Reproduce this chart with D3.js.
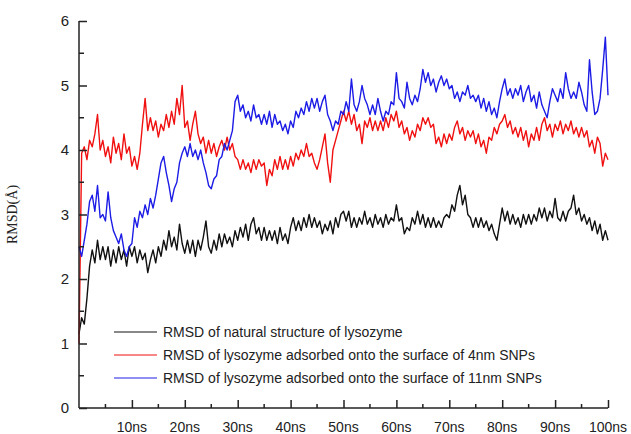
<!DOCTYPE html>
<html>
<head>
<meta charset="utf-8">
<script src="https://cdn.jsdelivr.net/npm/d3@7"></script>
<style>
  body { margin: 0; background: #fff; }
  svg text { font-family: Arial, "Liberation Sans", sans-serif; fill: #222; }
</style>
</head>
<body>
<div id="chart"></div>
<script>
// sampling step of the trajectories, in ns
const stepNs = 0.5;

// RMSD of natural structure of lysozyme
const natural = [
  1.15, 1.4, 1.3, 1.7, 2.2, 2.45, 2.25, 2.6, 2.3, 2.5,
  2.3, 2.5, 2.2, 2.45, 2.25, 2.5, 2.3, 2.45, 2.2, 2.5,
  2.35, 2.5, 2.25, 2.45, 2.3, 2.4, 2.1, 2.3, 2.45, 2.25,
  2.5, 2.35, 2.6, 2.45, 2.75, 2.5, 2.65, 2.45, 2.85, 2.55,
  2.4, 2.6, 2.4, 2.6, 2.35, 2.6, 2.45, 2.65, 2.9, 2.5,
  2.4, 2.6, 2.45, 2.7, 2.5, 2.7, 2.55, 2.65, 2.5, 2.75,
  2.6, 2.8, 2.65, 2.85, 2.6, 2.85, 2.95, 2.7, 2.8, 2.6,
  2.8, 2.6, 2.75, 2.6, 2.75, 2.55, 2.8, 2.6, 2.7, 2.55,
  2.8, 2.95, 2.75, 2.9, 2.75, 2.95, 2.8, 3.0, 2.8, 2.95,
  2.8, 2.9, 2.7, 2.85, 2.75, 2.9, 2.7, 2.95, 2.8, 3.0,
  3.05, 2.9, 3.05, 2.8, 2.95, 2.8, 2.95, 2.85, 3.05, 2.85,
  2.95, 2.8, 3.0, 2.85, 2.95, 2.8, 3.0, 2.85, 2.95, 2.9,
  3.15, 2.9, 2.95, 2.7, 2.8, 2.75, 2.95, 2.85, 3.05, 2.85,
  3.0, 2.8, 2.95, 2.8, 2.95, 2.8, 2.9, 2.8, 2.95, 3.0,
  2.95, 3.15, 3.05, 3.3, 3.45, 3.15, 3.3, 3.0, 2.95, 2.8,
  2.95, 2.8, 2.95, 2.8, 2.9, 2.75, 2.85, 2.7, 2.6, 2.85,
  3.1, 2.9, 3.05, 2.85, 3.0, 2.85, 2.95, 2.8, 3.0, 2.85,
  3.0, 2.85, 3.0, 2.9, 3.1, 2.95, 3.1, 2.9, 3.05, 2.95,
  3.25, 2.95, 2.9, 3.05, 2.9, 3.05, 3.1, 3.3, 3.0, 3.1,
  2.9, 3.0, 2.85, 2.95, 2.75, 2.9, 2.7, 2.85, 2.6, 2.75,
  2.6
];

// RMSD of lysozyme adsorbed onto the surface of 4nm SNPs
const snp4 = [
  1.0, 3.95, 4.05, 3.85, 4.15, 4.05, 4.25, 4.55, 4.0, 4.15,
  3.9, 4.05, 3.8, 4.2, 3.95, 4.1, 3.85, 4.25, 3.95, 4.05,
  3.75, 3.9, 3.7, 3.95, 4.4, 4.8, 4.3, 4.5, 4.3, 4.45,
  4.2, 4.4, 4.3, 4.55, 4.35, 4.6, 4.4, 4.8, 4.55, 5.0,
  4.35, 4.45, 4.15, 4.4, 4.6, 4.25, 4.1, 4.2, 3.95, 4.15,
  3.95, 4.1, 3.9, 4.05, 4.15, 4.0, 4.2, 4.0, 4.1, 3.9,
  3.85, 3.7, 3.85, 3.7, 3.8, 3.65, 3.85, 3.7, 3.85, 3.75,
  3.8, 3.45, 3.7, 3.6, 3.85, 3.7, 3.9, 3.7, 3.85, 3.7,
  3.9, 3.75, 3.95, 3.85, 4.0, 3.9, 4.1, 3.9, 3.95, 3.8,
  3.7, 3.85, 4.05, 4.25, 3.8, 3.5, 4.0, 4.15, 4.3, 4.45,
  4.6, 4.45, 4.6, 4.4, 4.55, 4.3, 4.4, 4.1, 4.45, 4.35,
  4.5, 4.3, 4.45, 4.3, 4.45, 4.3, 4.5, 4.35, 4.55, 4.45,
  4.6, 4.35, 4.45, 4.25, 4.35, 4.15, 4.3, 4.2, 4.4, 4.3,
  4.5, 4.4, 4.5, 4.35, 4.4, 4.1, 4.2, 4.05, 4.25, 4.1,
  4.25, 4.15, 4.35, 4.45, 4.25, 4.35, 4.15, 4.3, 4.2, 4.3,
  4.1, 4.25, 4.05, 4.15, 3.95, 4.2, 4.15, 4.35, 4.25, 4.4,
  4.45, 4.55, 4.35, 4.45, 4.25, 4.35, 4.2, 4.35, 4.15, 4.3,
  4.05, 4.25, 4.15, 4.35, 4.15, 4.4, 4.5, 4.3, 4.4, 4.2,
  4.4, 4.3, 4.45, 4.25, 4.4, 4.3, 4.45, 4.25, 4.35, 4.2,
  4.35, 4.2, 4.3, 4.05, 4.15, 3.95, 4.2, 4.1, 3.75, 3.95,
  3.85
];

// RMSD of lysozyme adsorbed onto the surface of 11nm SNPs
const snp11 = [
  2.5, 2.35, 2.6, 2.85, 3.2, 3.3, 3.05, 3.45, 2.95, 3.0,
  2.9, 3.35, 2.95, 2.75, 2.65, 2.55, 2.7, 2.45, 2.35, 2.5,
  2.55, 2.95, 2.8, 3.05, 2.95, 3.15, 3.0, 3.25, 3.1, 3.3,
  3.55, 3.8, 3.9, 3.65, 3.45, 3.2, 3.4, 3.5, 3.8, 3.95,
  4.05, 3.9, 4.1, 3.9, 4.0, 3.85, 4.0, 3.8, 3.65, 3.45,
  3.4, 3.55, 3.6, 3.85, 3.9, 4.1, 4.0, 4.15, 4.3, 4.75,
  4.85, 4.6, 4.7, 4.5, 4.6, 4.45, 4.7, 4.5, 4.55, 4.4,
  4.55, 4.4, 4.6, 4.35, 4.55, 4.4, 4.45, 4.3, 4.4, 4.25,
  4.45, 4.35, 4.6, 4.5, 4.65, 4.55, 4.75, 4.6, 4.8, 4.65,
  4.8, 4.6, 4.75, 4.85, 4.55, 4.45, 4.3, 4.45, 4.4, 4.6,
  4.55, 4.75, 4.6, 5.1, 4.7, 4.6, 4.75, 5.0, 4.8, 4.7,
  4.55, 4.7, 4.55, 4.8, 4.6, 4.45, 4.6, 4.55, 4.75, 4.7,
  5.2, 4.8, 4.75, 4.65, 5.05, 4.8, 4.7, 4.85, 4.75, 4.95,
  5.25, 5.05, 5.2, 5.0, 5.1, 4.9, 5.05, 5.15, 5.0, 5.1,
  4.95, 5.0, 4.8, 4.9, 4.75, 4.9, 4.85, 5.0, 4.8, 4.85,
  4.75, 4.85, 4.65, 4.8, 4.6, 4.75, 4.55, 4.65, 4.5, 4.75,
  4.95, 5.1, 4.85, 4.95, 4.8, 4.95, 4.85, 5.0, 4.75, 4.9,
  5.0, 4.75, 4.85, 4.65, 4.9, 4.7, 4.6, 4.5, 4.75, 4.95,
  4.85, 4.75, 4.95, 4.8, 5.2, 4.95, 4.8, 4.9, 4.8, 5.05,
  4.9, 4.7, 4.6, 5.4, 4.9, 4.55, 4.6, 4.8, 5.25, 5.75,
  4.85
];

const seriesNames = [
  "RMSD of natural structure of lysozyme",
  "RMSD of lysozyme adsorbed onto the surface of 4nm SNPs",
  "RMSD of lysozyme adsorbed onto the surface of 11nm SNPs"
];
const seriesColors = ["#111111", "#f01010", "#1c1ce6"];
const xTicks = [10, 20, 30, 40, 50, 60, 70, 80, 90, 100];
const yTicks = [0, 1, 2, 3, 4, 5, 6];

const width = 631, height = 434;
const margin = { top: 21, right: 23, bottom: 26, left: 79 };

const svg = d3.select("#chart").append("svg")
  .attr("width", width)
  .attr("height", height);

const x = d3.scaleLinear().domain([0, 100]).range([margin.left, width - margin.right]);
const y = d3.scaleLinear().domain([0, 6]).range([height - margin.bottom, margin.top]);

// lines, drawn black first so blue ends on top
const line = d3.line()
  .x((d, i) => x(i * stepNs))
  .y(d => y(d));

[natural, snp4, snp11].forEach((s, k) => {
  svg.append("path")
    .datum(s)
    .attr("fill", "none")
    .attr("stroke", seriesColors[k])
    .attr("stroke-width", 1.4)
    .attr("stroke-linejoin", "round")
    .attr("d", line);
});

// x axis with inward ticks
const xAxis = svg.append("g")
  .attr("transform", `translate(0,${y(0)})`)
  .call(d3.axisTop(x).tickValues(xTicks).tickSize(8).tickFormat(""));
xAxis.select(".domain").attr("d", `M${x(0)},0H${x(100)}`);
xAxis.append("g").selectAll("line")
  .data(d3.range(5, 100, 10))
  .join("line")
  .attr("x1", d => x(d)).attr("x2", d => x(d))
  .attr("y1", 0).attr("y2", -4);
xAxis.append("g").selectAll("text")
  .data(xTicks)
  .join("text")
  .attr("x", d => x(d))
  .attr("y", 24)
  .attr("text-anchor", "middle")
  .style("font-size", "14px")
  .text(d => d + "ns");

// y axis with inward ticks
const yAxis = svg.append("g")
  .attr("transform", `translate(${x(0)},0)`)
  .call(d3.axisRight(y).tickValues(yTicks).tickSize(8).tickFormat(""));
yAxis.select(".domain").attr("d", `M0,${y(6)}V${y(0)}`);
yAxis.append("g").selectAll("line")
  .data(d3.range(0.5, 6, 1))
  .join("line")
  .attr("y1", d => y(d)).attr("y2", d => y(d))
  .attr("x1", 0).attr("x2", 5);
yAxis.append("g").selectAll("text")
  .data(yTicks)
  .join("text")
  .attr("x", -10)
  .attr("y", d => y(d))
  .attr("dy", "0.35em")
  .attr("text-anchor", "end")
  .style("font-size", "15px")
  .text(d => d);

svg.selectAll(".domain").attr("stroke", "#222").attr("stroke-width", 1.5);
svg.selectAll("g line").attr("stroke", "#222").attr("stroke-width", 1.5);

// y axis title
svg.append("text")
  .attr("transform", `translate(17,${(y(0) + y(6)) / 2}) rotate(-90)`)
  .attr("text-anchor", "middle")
  .style("font-family", "'Liberation Serif', 'Times New Roman', serif")
  .style("font-size", "14px")
  .text("RMSD(Å)");

// legend
const legend = svg.append("g");
seriesNames.forEach((name, k) => {
  const ly = 332 + k * 23;
  legend.append("line")
    .attr("x1", 114).attr("x2", 157)
    .attr("y1", ly).attr("y2", ly)
    .attr("stroke", seriesColors[k])
    .attr("stroke-width", 1);
  legend.append("text")
    .attr("x", 163)
    .attr("y", ly)
    .attr("dy", "0.35em")
    .style("font-size", "14px")
    .text(name);
});
</script>
</body>
</html>
